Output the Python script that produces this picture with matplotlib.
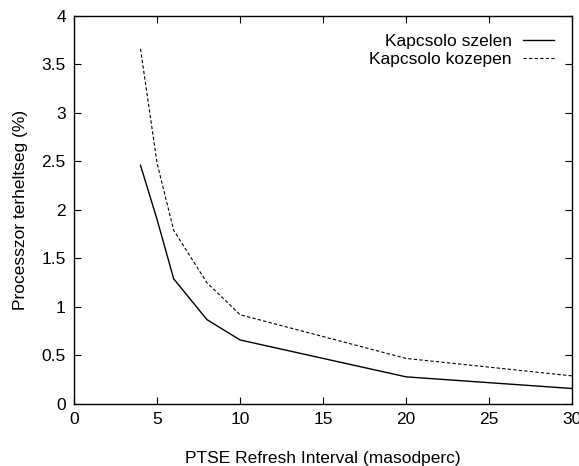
import matplotlib
matplotlib.use("Agg")
import matplotlib.pyplot as plt

plt.rcParams['font.family'] = ['Liberation Sans', 'DejaVu Sans']

# refresh interval (s) vs processor load (%)
interval = [4, 5, 6, 8, 10, 20, 30]
load_edge = [2.46, 1.90, 1.29, 0.87, 0.66, 0.28, 0.16]
load_middle = [3.66, 2.48, 1.79, 1.25, 0.92, 0.47, 0.29]

fig = plt.figure(figsize=(5.79, 4.66), dpi=100)
ax = fig.add_axes([0.128, 0.133, 0.86, 0.833])

ax.plot(interval, load_edge, color='black', linestyle='-', linewidth=1, label='Kapcsolo szelen')
ax.plot(interval, load_middle, color='black', linestyle=(0, (3, 2)), linewidth=0.8, label='Kapcsolo kozepen')

ax.set_xlim(0, 30)
ax.set_ylim(0, 4)
ax.set_xticks(range(0, 31, 5))
ax.set_yticks([0, 0.5, 1, 1.5, 2, 2.5, 3, 3.5, 4])
ax.set_yticklabels(['0', '0.5', '1', '1.5', '2', '2.5', '3', '3.5', '4'])
ax.tick_params(direction='in', top=True, right=True, length=5, labelsize=12.5, pad=6)
for s in ax.spines.values():
    s.set_linewidth(1)

ax.set_xlabel('PTSE Refresh Interval (masodperc)', fontsize=12.5, labelpad=17)
ax.set_ylabel('Processzor terheltseg (%)', fontsize=12.5, labelpad=10)

ax.legend(loc='upper right', frameon=False, markerfirst=False, fontsize=12.5,
          handlelength=1.8, labelspacing=0.15, borderaxespad=0.65, handletextpad=0.63)

fig.savefig('out.png', dpi=100)
